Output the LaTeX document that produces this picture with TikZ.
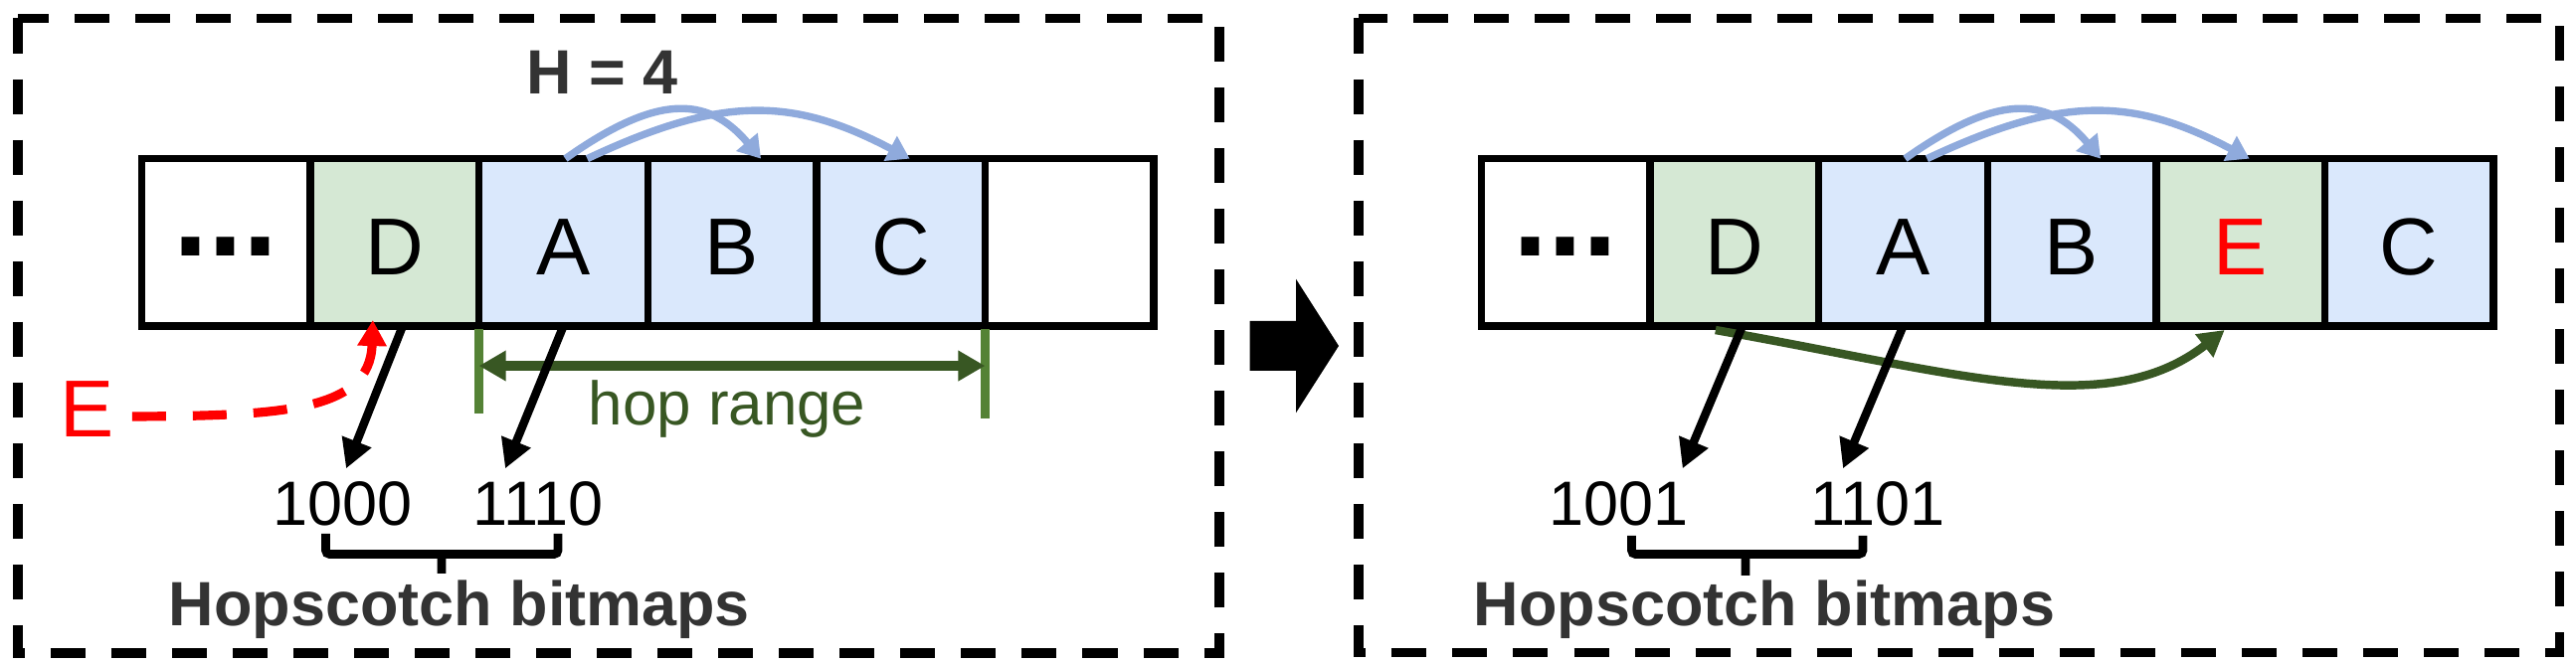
\documentclass[tikz,border=0pt]{standalone}
\usepackage{fontspec}
\setmainfont{Liberation Sans}
\usepackage{xcolor}
\usetikzlibrary{arrows.meta,positioning,calc}
\definecolor{keygreen}{HTML}{D5E8D4}
\definecolor{keyblue}{HTML}{DAE8FC}
\definecolor{jumpblue}{HTML}{8FAADC}
\definecolor{hopdark}{HTML}{385723}
\definecolor{hoplight}{HTML}{548235}
\definecolor{labelgray}{HTML}{333333}

\begin{document}
\begin{tikzpicture}[x=0.01cm,y=-0.01cm,cell/.style={draw,line width=2.1pt,minimum width=1.695cm,minimum height=1.683cm,inner sep=0pt,outer sep=0pt,text height=0.66cm,text depth=0pt,font=\fontsize{23.1pt}{27pt}\selectfont},dots/.style={cell,text height=0.28cm,font=\fontsize{35.8pt}{40pt}\selectfont\bfseries},gcell/.style={cell,fill=keygreen},bcell/.style={cell,fill=keyblue},panel/.style={draw,line width=2.6pt,dash pattern=on 0.35cm off 0.26cm},jump/.style={draw=jumpblue,line width=2.1pt,-{Triangle[length=0.22cm,width=0.27cm]}},ptr/.style={draw,line width=2.4pt,-{Triangle[length=0.29cm,width=0.3cm]}},bits/.style={anchor=base,inner sep=0.13cm,font=\fontsize{17.9pt}{21pt}\selectfont},title/.style={anchor=base,text=labelgray,font=\fontsize{17.9pt}{21pt}\selectfont\bfseries},brace/.style={draw,line width=2.5pt,rounded corners=0.04cm},hoptick/.style={draw=hoplight,line width=2.5pt},hoprange/.style={draw=hopdark,line width=2.8pt,{Triangle[length=0.27cm,width=0.29cm]}-{Triangle[length=0.27cm,width=0.29cm]}},insert/.style={draw=red,line width=2.6pt,dash pattern=on 0.34cm off 0.27cm,-{Triangle[length=0.26cm,width=0.28cm]}},relocate/.style={draw=hopdark,line width=2.4pt,-{Triangle[length=0.26cm,width=0.28cm]}}]
\useasboundingbox (0,0) rectangle (2590,668);
\draw[panel] (18,18.5) rectangle (1226,657);
\draw[panel] (1366,18.5) rectangle (2573.5,656.5);
\fill (1256.7,323) -- (1303,323) -- (1303,280.7) -- (1346,348) -- (1303,415.3) -- (1303,373) -- (1256.7,373) -- cycle;
% before insertion
\node[dots] (l0) at (227.25,243.85) {...};
\node[gcell,right=0pt of l0] (lD) {D};
\node[bcell,right=0pt of lD] (lA) {A};
\node[bcell,right=0pt of lA] (lB) {B};
\node[bcell,right=0pt of lB] (lC) {C};
\node[cell,right=0pt of lC] (l5) {};
\node[title] (hlimit) at (605.5,95) {H = 4};
\draw[jump] ($(lA.north)+(2,0)$) .. controls +(89,-63) and +(-55,-65.5) .. ($(lB.north)+(29,0)$);
\draw[jump] ($(lA.north)+(24,0)$) .. controls +(134,-63) and +(-119,-63) .. ($(lC.north)+(9,0)$);
\draw[hoptick] ($(lA.south west)+(0,3)$) -- ++(0,85);
\draw[hoptick] ($(lC.south east)+(0,3)$) -- ++(0,90);
\draw[hoprange] ($(lA.south west)+(0,40)$) -- ($(lC.south east)+(0,40)$);
\node[anchor=base,text=hopdark,font=\fontsize{17.6pt}{21pt}\selectfont] (hoptext) at (731,428) {hop range};
\node[anchor=base,text=red,inner xsep=0.175cm,font=\fontsize{23.1pt}{27pt}\selectfont] (newkey) at (87.5,440) {E};
\draw[insert] ($(newkey.east)+(0,7)$) .. controls (280,418) and (372,415) .. ($(lD.south)+(-22,-6)$);
\node[bits] (lbit1) at (345,529) {1000};
\node[bits] (lbit2) at (541,529) {1110};
\draw[ptr] ($(lD.south)+(8,0)$) -- ($(lbit1.north)+(3,0)$);
\draw[ptr] (lA.south) -- ($(lbit2.north)+(-33,0)$);
\draw[brace] (327.5,537) -- (327.5,557.5) -- (561,557.5) -- (561,537) (444,557.5) -- (444,577);
\node[title] (lcap) at (462,630) {Hopscotch bitmaps};
% after insertion
\node[dots] (r0) at (1574.25,243.85) {...};
\node[gcell,right=0pt of r0] (rD) {D};
\node[bcell,right=0pt of rD] (rA) {A};
\node[bcell,right=0pt of rA] (rB) {B};
\node[gcell,right=0pt of rB] (rE) {\textcolor{red}{E}};
\node[bcell,right=0pt of rE] (rC) {C};
\draw[jump] ($(rA.north)+(2,0)$) .. controls +(89,-63) and +(-55,-65.5) .. ($(rB.north)+(29,0)$);
\draw[jump] ($(rA.north)+(24,0)$) .. controls +(134,-63) and +(-119,-63) .. ($(rE.north)+(9,0)$);
\draw[relocate] ($(rD.south)+(-19,4)$) .. controls +(246,43.5) and +(-118,92) .. ($(rE.south)+(-16,4)$);
\node[bits] (rbit1) at (1627.7,529) {1001};
\node[bits] (rbit2) at (1888,529) {1101};
\draw[ptr] ($(rD.south)+(8,0)$) -- ($(rbit1.north)+(64,0)$);
\draw[ptr] (rA.south) -- ($(rbit2.north)+(-35,0)$);
\draw[brace] (1640.5,539) -- (1640.5,557.5) -- (1873,557.5) -- (1873,539) (1755,557.5) -- (1755,579);
\node[title] (rcap) at (1774,630) {Hopscotch bitmaps};
\end{tikzpicture}
\end{document}
